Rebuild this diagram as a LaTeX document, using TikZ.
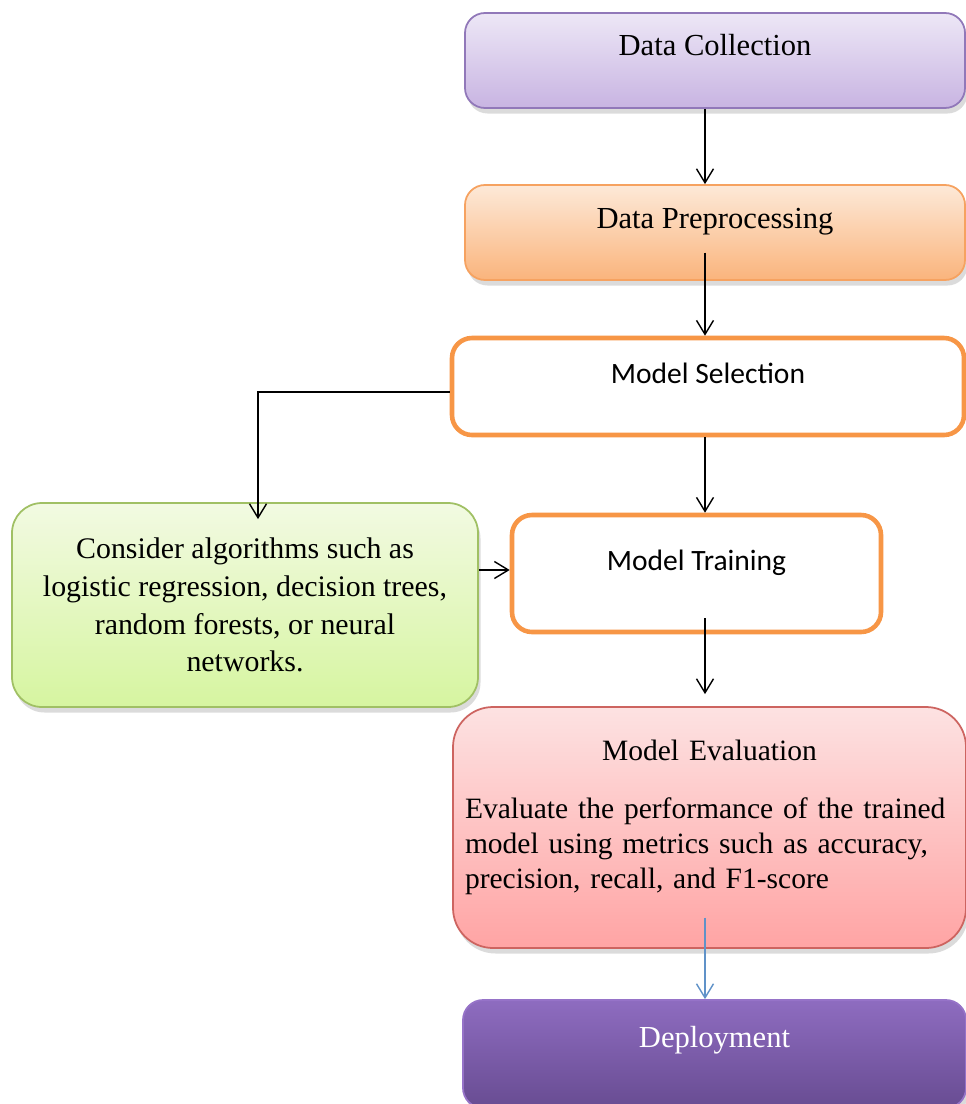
\documentclass[tikz,border=0pt]{standalone}
\usepackage{fontspec}
\setmainfont{Liberation Serif}
\newfontfamily\calibri{Carlito}
\usetikzlibrary{arrows.meta}
\usetikzlibrary{calc}
\usetikzlibrary{shadows}
\definecolor{colltop}{RGB}{237,231,246}
\definecolor{collbot}{RGB}{200,180,226}
\definecolor{collbd}{RGB}{145,120,185}
\definecolor{preptop}{RGB}{253,233,216}
\definecolor{prepbot}{RGB}{250,180,124}
\definecolor{prepbd}{RGB}{246,162,96}
\definecolor{stepor}{RGB}{247,150,70}
\definecolor{algtop}{RGB}{242,250,226}
\definecolor{algbot}{RGB}{214,245,160}
\definecolor{algbd}{RGB}{160,192,100}
\definecolor{evaltop}{RGB}{253,226,226}
\definecolor{evalbot}{RGB}{255,164,164}
\definecolor{evalbd}{RGB}{205,100,96}
\definecolor{deptop}{RGB}{142,108,192}
\definecolor{depbot}{RGB}{104,76,146}
\definecolor{depbd}{RGB}{150,115,200}
\definecolor{flowblue}{RGB}{96,146,200}
\tikzstyle{block} = [draw, rectangle, rounded corners=4mm, inner sep=0pt,
                     align=center, line width=1pt,
                     font=\fontsize{17.4}{21.5}\selectfont]
\tikzstyle{shade} = [drop shadow={shadow xshift=0.5mm, shadow yshift=-1.1mm,
                     opacity=0.28}]
\tikzstyle{wide} = [block, shade, minimum width=10cm, minimum height=1.9cm]
\tikzstyle{outline} = [block, draw=stepor, line width=2.6pt, fill=white,
                       font={\calibri\fontsize{16.8}{20}\selectfont}]

\begin{document}
\begin{tikzpicture}[>={Straight Barb[length=2.8mm, width=3.4mm]}, line width=0.8pt]

% background
\path[use as bounding box, fill=white] (0,0) rectangle (19.32,-22.08);

% add nodes
\path (14.30,-1.21) node [wide, draw=collbd, top color=colltop, bottom color=collbot,
                          text height=8.4mm, text depth=10.6mm] (dc) {Data Collection}
  -- (14.30,-4.65) node [wide, draw=prepbd, top color=preptop, bottom color=prepbot,
                          text height=8.6mm, text depth=10.4mm] (dp) {Data Preprocessing};

\path (14.16,-7.73) node [outline, minimum width=10.24cm, minimum height=1.94cm,
                          text height=9mm, text depth=10.4mm] (ms) {Model Selection};

\path (13.93,-11.47) node [outline, minimum width=7.38cm, minimum height=2.34cm,
                           text height=11mm, text depth=12.4mm] (mt) {Model Training};

\path (4.90,-12.10) node [block, shade, rounded corners=6mm, draw=algbd,
                          top color=algtop, bottom color=algbot,
                          minimum width=9.32cm, minimum height=4.08cm,
                          font=\fontsize{17}{21.5}\selectfont] (alg)
                     {Consider algorithms such as \\
                      logistic regression, decision trees, \\
                      random forests, or neural \\
                      networks.};

\path (14.19,-16.55) node [block, shade, rounded corners=8mm, draw=evalbd,
                           top color=evaltop, bottom color=evalbot,
                           minimum width=10.26cm, minimum height=4.82cm,
                           align=left, text width=9.78cm,
                           font=\fontsize{16.8}{20}\selectfont,
                           text height=10.6mm, text depth=37.6mm] (me)
                     {{\centering Model Evaluation\par}\vspace{13pt}
                      Evaluate the performance of the trained\\
                      model using metrics such as accuracy,\\
                      precision, recall, and F1-score};

\path (14.29,-21.08) node [block, shade, draw=depbd, top color=deptop, bottom color=depbot,
                           text=white, minimum width=10.06cm, minimum height=2.16cm,
                           text height=9.4mm, text depth=12.2mm] (dep) {Deployment};

\coordinate (spine) at (14.10,0);

% add connections
\draw[->] (dc.south -| spine) -- (dp.north -| spine);
\draw[->] ($(dp.center -| spine)+(0,-0.4)$) -- (ms.north -| spine);
\draw[->] (ms.south -| spine) -- (mt.north -| spine);
\draw[->] ($(ms.west)+(0,-0.11)$) -| ($(alg.north)+(0.26,-0.34)$);
\draw[->] ($(alg.east)+(0,0.7)$) -- ($(alg.east -| mt.west)+(0,0.7)$);
\draw[->] ($(mt.center -| spine)+(0,-0.89)$) -- ($(me.north -| spine)+(0,0.24)$);
\draw[->, draw=flowblue] ($(me.center -| spine)+(0,-1.8)$) -- (dep.north -| spine);

\end{tikzpicture}
\end{document}
